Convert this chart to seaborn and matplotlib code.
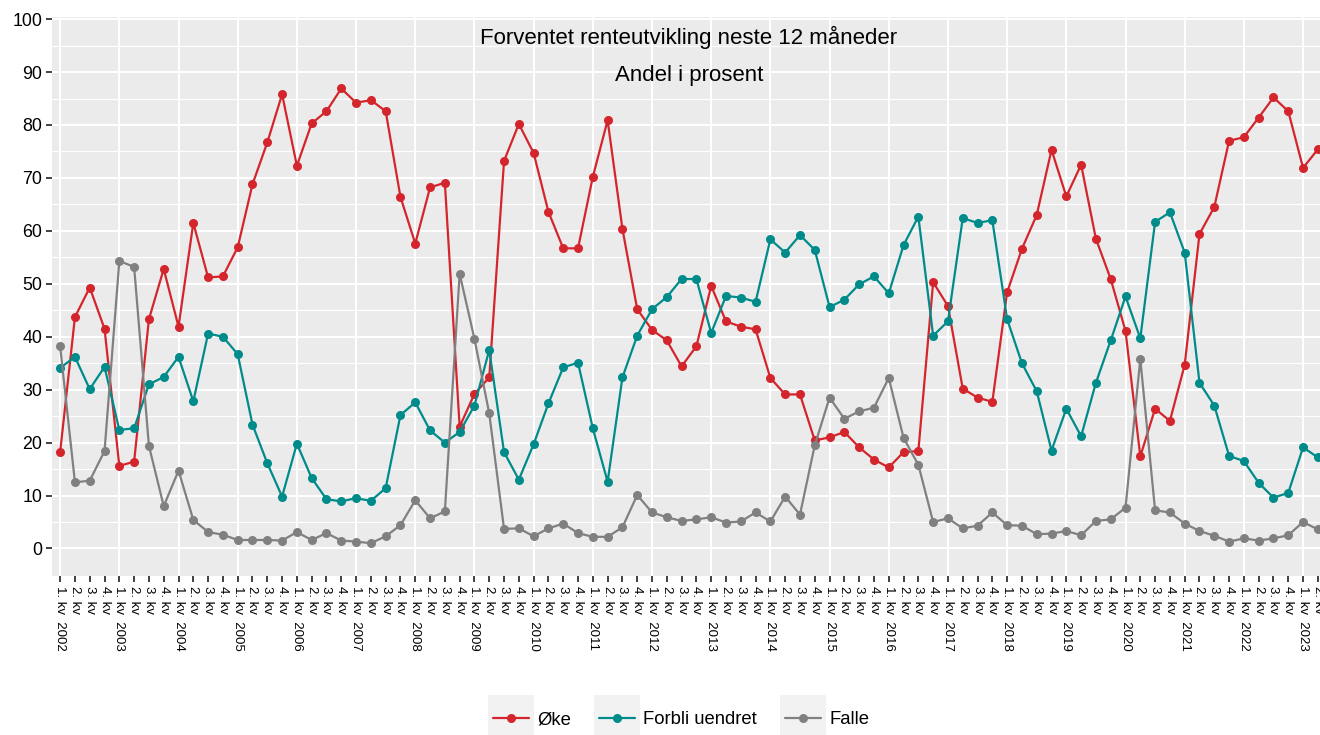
import numpy as np
import pandas as pd
import matplotlib
matplotlib.use("Agg")
import matplotlib.pyplot as plt
import seaborn as sns
from matplotlib.patches import Rectangle

# ---------------- data ----------------
series = ["Øke", "Forbli uendret", "Falle"]
colors = ["#D3252B", "#008B8B", "#808080"]

quarter_labels = [
    (f"{q}. kv  {y}" if q == 1 else f"{q}. kv")
    for y in range(2002, 2024) for q in range(1, 5)
    if not (y == 2023 and q > 2)
]

oke = [18.2, 43.7, 49.3, 41.5, 15.6, 16.4, 43.3, 52.8, 41.9, 61.5,
       51.2, 51.4, 56.9, 68.8, 76.7, 85.8, 72.3, 80.3, 82.6, 86.9,
       84.2, 84.7, 82.6, 66.4, 57.6, 68.2, 69.1, 23.0, 29.2, 32.3,
       73.2, 80.2, 74.7, 63.6, 56.7, 56.7, 70.2, 80.9, 60.4, 45.2,
       41.3, 39.3, 34.4, 38.2, 49.6, 42.9, 41.9, 41.4, 32.2, 29.1,
       29.1, 20.4, 21.0, 22.0, 19.1, 16.8, 15.3, 18.2, 18.4, 50.3,
       45.8, 30.2, 28.5, 27.7, 48.4, 56.6, 63.0, 75.3, 66.5, 72.5,
       58.5, 50.9, 41.1, 17.4, 26.4, 24.1, 34.7, 59.4, 64.5, 77.0,
       77.7, 81.4, 85.2, 82.6, 71.9, 75.4]

forbli = [34.1, 36.2, 30.1, 34.3, 22.4, 22.7, 31.0, 32.4, 36.2, 27.8,
          40.6, 40.0, 36.7, 23.4, 16.1, 9.8, 19.8, 13.3, 9.3, 8.9,
          9.5, 9.0, 11.4, 25.2, 27.6, 22.3, 20.0, 22.0, 27.0, 37.5,
          18.2, 13.0, 19.7, 27.4, 34.2, 35.1, 22.7, 12.6, 32.3, 40.2,
          45.2, 47.5, 50.9, 50.9, 40.7, 47.7, 47.4, 46.6, 58.4, 55.9,
          59.2, 56.4, 45.6, 47.0, 49.9, 51.4, 48.2, 57.3, 62.7, 40.2,
          42.9, 62.4, 61.5, 62.0, 43.3, 35.0, 29.7, 18.5, 26.4, 21.2,
          31.3, 39.3, 47.6, 39.7, 61.7, 63.5, 55.9, 31.3, 27.0, 17.5,
          16.5, 12.4, 9.6, 10.5, 19.1, 17.2]

falle = [38.2, 12.5, 12.8, 18.4, 54.3, 53.2, 19.4, 8.0, 14.7, 5.4,
         3.1, 2.6, 1.6, 1.6, 1.6, 1.5, 3.1, 1.6, 2.9, 1.5,
         1.3, 1.0, 2.3, 4.4, 9.1, 5.7, 7.0, 51.9, 39.6, 25.5,
         3.7, 3.8, 2.3, 3.8, 4.7, 2.9, 2.2, 2.2, 4.0, 10.1,
         6.8, 5.9, 5.2, 5.5, 5.9, 4.9, 5.1, 6.8, 5.1, 9.8,
         6.4, 19.5, 28.5, 24.5, 25.9, 26.6, 32.2, 20.9, 15.8, 5.0,
         5.7, 3.8, 4.3, 6.8, 4.4, 4.3, 2.7, 2.8, 3.3, 2.5,
         5.2, 5.5, 7.7, 35.8, 7.2, 6.8, 4.7, 3.3, 2.4, 1.3,
         1.9, 1.5, 1.9, 2.5, 5.0, 3.6]

title = "Forventet renteutvikling neste 12 måneder"
subtitle = "Andel i prosent"

# ---------------- build frame ----------------
n = len(quarter_labels)
df = pd.concat([
    pd.DataFrame({"idx": np.arange(n), "value": vals, "serie": name})
    for name, vals in zip(series, [oke, forbli, falle])
], ignore_index=True)

# ---------------- style ----------------
sns.set_style("white")
plt.rcParams["font.family"] = ["Liberation Sans", "DejaVu Sans"]

W, H = 1320, 735
fig = plt.figure(figsize=(W / 100, H / 100), dpi=100)
fig.patch.set_facecolor("white")

left_px, right_px, top_px, bot_px = 52, 1326, 17, 576
ax = fig.add_axes([left_px / W, 1 - bot_px / H,
                   (right_px - left_px) / W, (bot_px - top_px) / H])
ax.set_facecolor("#EBEBEB")

# grid
ax.set_yticks(np.arange(0, 101, 10))
ax.set_yticks(np.arange(5, 100, 10), minor=True)
ax.grid(which="major", axis="y", color="white", lw=1.5, zorder=0)
ax.grid(which="minor", axis="y", color="white", lw=0.8, zorder=0)
for i in range(0, n, 4):
    ax.axvline(i, color="white", lw=1.5, zorder=0.5)
ax.set_axisbelow(True)

sns.lineplot(data=df, x="idx", y="value", hue="serie", hue_order=series,
             palette=colors, marker="o", markersize=6.5, markeredgewidth=0,
             linewidth=1.6, ax=ax, legend=True, zorder=3)

ax.set_xlim(-0.55, n - 1 + 0.55)
ax.set_ylim(-5.2, 100.4)
ax.set_xticks(np.arange(n))
ax.set_xticklabels(quarter_labels, rotation=-90, fontsize=9.5,
                   va="top", ha="center")
ax.set_yticklabels([str(v) for v in range(0, 101, 10)], fontsize=12.8)
ax.tick_params(axis="both", which="major", length=4.5, width=1.3,
               color="#333333", labelcolor="#000000",
               bottom=True, left=True)
ax.tick_params(axis="y", which="major", pad=2.5)
ax.tick_params(axis="x", which="major", pad=3)
ax.tick_params(axis="y", which="minor", length=0, left=False)
ax.set_xlabel("")
ax.set_ylabel("")
for s in ax.spines.values():
    s.set_visible(False)

# titles inside panel
fig.text(689 / W, 1 - 37 / H, title, ha="center", va="center", fontsize=16,
         color="black")
fig.text(689 / W, 1 - 75 / H, subtitle, ha="center", va="center", fontsize=16,
         color="black")

# legend
handles, labels = ax.get_legend_handles_labels()
ax.legend_.remove()
leg = fig.legend(handles, labels, loc="center",
                 bbox_to_anchor=(681 / W, 1 - 720 / H), ncol=3,
                 frameon=False, fontsize=13.3, handlelength=1.95,
                 handletextpad=0.45, columnspacing=1.5)
for t in leg.get_texts():
    t.set_color("black")
fig.canvas.draw()
renderer = fig.canvas.get_renderer()
for h in leg.legend_handles:
    bb = h.get_window_extent(renderer)
    cx = (bb.x0 + bb.x1) / 2
    cy = (bb.y0 + bb.y1) / 2
    bw, bh = 46, 46
    fig.add_artist(Rectangle(((cx - bw / 2) / W, (cy - bh / 2) / H),
                             bw / W, bh / H, transform=fig.transFigure,
                             facecolor="#F2F2F2", edgecolor="none", zorder=1))

fig.savefig("out.png", dpi=100)
